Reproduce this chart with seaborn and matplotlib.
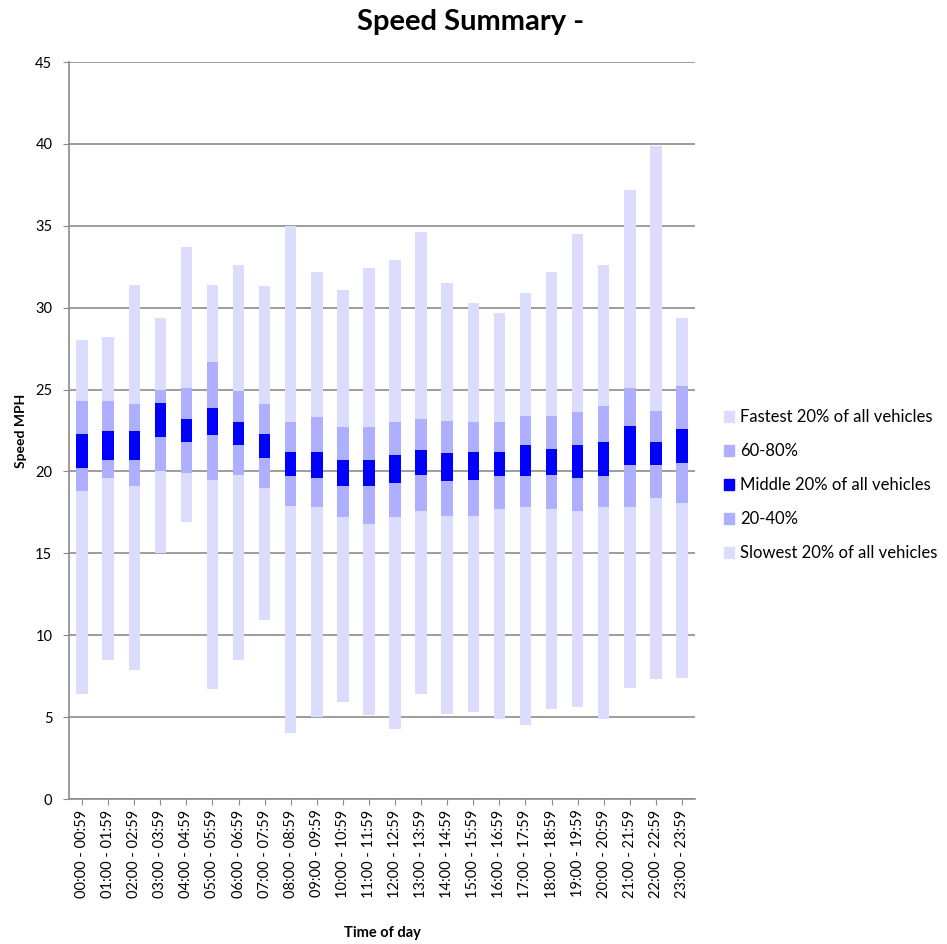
import matplotlib
matplotlib.use("Agg")
import matplotlib.pyplot as plt
import seaborn as sns
import numpy as np
from matplotlib.patches import Patch

# hour bins
hours = ["%02d:00 - %02d:59" % (h, h) for h in range(24)]

# speed percentiles (MPH)
p_min = [6.4, 8.5, 7.9, 15.0, 16.9, 6.7, 8.5, 10.9, 4.0, 5.0, 5.9, 5.1,
         4.3, 6.4, 5.2, 5.3, 4.9, 4.5, 5.5, 5.6, 4.9, 6.8, 7.3, 7.4]
p20 = [18.8, 19.6, 19.1, 20.0, 19.9, 19.5, 19.8, 19.0, 17.9, 17.8, 17.2, 16.8,
       17.2, 17.6, 17.3, 17.3, 17.7, 17.8, 17.7, 17.6, 17.8, 17.8, 18.4, 18.1]
p40 = [20.2, 20.7, 20.7, 22.1, 21.8, 22.2, 21.6, 20.8, 19.7, 19.6, 19.1, 19.1,
       19.3, 19.8, 19.4, 19.5, 19.7, 19.7, 19.8, 19.6, 19.7, 20.4, 20.4, 20.5]
p60 = [22.3, 22.5, 22.5, 24.2, 23.2, 23.9, 23.0, 22.3, 21.2, 21.2, 20.7, 20.7,
       21.0, 21.3, 21.1, 21.2, 21.2, 21.6, 21.4, 21.6, 21.8, 22.8, 21.8, 22.6]
p80 = [24.3, 24.3, 24.1, 25.0, 25.1, 26.7, 24.9, 24.1, 23.0, 23.3, 22.7, 22.7,
       23.0, 23.2, 23.1, 23.0, 23.0, 23.4, 23.4, 23.6, 24.0, 25.1, 23.7, 25.2]
p_max = [28.0, 28.2, 31.4, 29.4, 33.7, 31.4, 32.6, 31.3, 35.0, 32.2, 31.1, 32.4,
         32.9, 34.6, 31.5, 30.3, 29.7, 30.9, 32.2, 34.5, 32.6, 37.2, 39.9, 29.4]

light = "#DCDCFF"
mid = "#AFAFFF"
dark = "#0000FF"

plt.rcParams["font.family"] = ["Lato", "DejaVu Sans"]

fig = plt.figure(figsize=(9.47, 9.44), dpi=100)
ax = fig.add_axes([0.0729, 0.1536, 0.661, 0.7807])

# stacked segments from slowest to fastest, base from 0 to min left empty
segments = [
    ("Slowest 20% of all vehicles", p_min, p20, light),
    ("20-40%", p20, p40, mid),
    ("Middle 20% of all vehicles", p40, p60, dark),
    ("60-80%", p60, p80, mid),
    ("Fastest 20% of all vehicles", p80, p_max, light),
]
for name, lo, hi, col in segments:
    h = np.array(hi) - np.array(lo)
    sns.barplot(x=hours, y=h, bottom=lo, color=col, width=0.44,
                saturation=1, linewidth=0, ax=ax, zorder=3)

ax.set_ylim(0, 45)
ax.set_xlim(-0.5, 23.5)
ax.set_yticks(range(0, 46, 5))
ax.grid(axis="y", color="#8c8c8c", linewidth=1.2, zorder=0)
ax.grid(axis="x", visible=False)
ax.set_axisbelow(True)
for s in ["top", "right"]:
    ax.spines[s].set_visible(False)
for s in ["left", "bottom"]:
    ax.spines[s].set_color("#8c8c8c")
    ax.spines[s].set_linewidth(1.2)
ax.tick_params(axis="both", colors="#8c8c8c", labelcolor="black", labelsize=10.5, length=4)
ax.tick_params(axis="y", pad=8)
ax.tick_params(axis="x", labelrotation=90)

ax.set_ylabel("Speed MPH", fontsize=10, fontweight="bold", labelpad=6)
ax.set_xlabel("Time of day", fontsize=10.5, fontweight="bold", labelpad=20)
fig.suptitle("Speed Summary -", fontsize=21, fontweight="bold", x=0.497, y=0.99)

handles = [Patch(color=col, label=name) for name, lo, hi, col in segments[::-1]]
fig.legend(handles=handles, loc="center left", bbox_to_anchor=(0.757, 0.486),
           frameon=False, fontsize=12, handlelength=0.65, handleheight=0.65,
           handletextpad=0.35, labelspacing=1.08, borderaxespad=0)

plt.savefig("out.png", dpi=100)
